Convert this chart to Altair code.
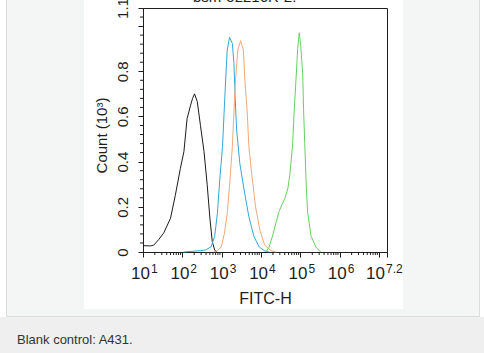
import math
import altair as alt
import pandas as pd

# ---------------- data ----------------
# FITC-H in log10 units, Count in thousands
black_log = [1.00, 1.19, 1.27, 1.40, 1.53, 1.70, 1.82, 1.95, 2.04, 2.12, 2.21, 2.26, 2.31,
             2.38, 2.46, 2.55, 2.63, 2.70, 2.76, 2.82, 2.87]
black_cnt = [0.028, 0.027, 0.030, 0.055, 0.085, 0.150, 0.250, 0.370, 0.445, 0.590, 0.650, 0.680,
             0.700, 0.665, 0.560, 0.445, 0.300, 0.150, 0.046, 0.009, 0.0]

blue_log = [2.03, 2.46, 2.59, 2.73, 2.82, 2.89, 2.95, 3.02, 3.06, 3.10, 3.14, 3.20, 3.27, 3.31,
            3.34, 3.38, 3.46, 3.57, 3.69, 3.82, 3.95, 4.08, 4.20]
blue_cnt = [0.0, 0.006, 0.009, 0.023, 0.068, 0.171, 0.319, 0.466, 0.614, 0.761, 0.894, 0.950,
            0.923, 0.835, 0.687, 0.540, 0.392, 0.274, 0.156, 0.068, 0.023, 0.006, 0.0]

orange_log = [2.79, 2.89, 2.99, 3.07, 3.14, 3.21, 3.27, 3.31, 3.35, 3.41, 3.48, 3.55, 3.59, 3.65,
              3.69, 3.78, 3.86, 3.97, 4.09, 4.25, 4.37]
orange_cnt = [0.0, 0.006, 0.023, 0.083, 0.171, 0.319, 0.466, 0.614, 0.761, 0.894, 0.935, 0.894,
              0.761, 0.614, 0.466, 0.319, 0.200, 0.097, 0.031, 0.006, 0.0]

green_log = [4.12, 4.20, 4.29, 4.38, 4.46, 4.53, 4.60, 4.68, 4.73, 4.80, 4.84, 4.89, 4.93, 4.97,
             5.01, 5.06, 5.08, 5.11, 5.14, 5.18, 5.27, 5.40, 5.52]
green_cnt = [0.0, 0.020, 0.070, 0.130, 0.180, 0.210, 0.235, 0.280, 0.340, 0.470, 0.620, 0.770,
             0.900, 0.970, 0.910, 0.780, 0.630, 0.480, 0.330, 0.180, 0.070, 0.020, 0.0]

series_names = ["Blank control", "Isotype control", "Sample", "Positive"]
series_colors = ["#1c1c1c", "#33a8d6", "#f2a878", "#66d160"]

decade_pos = [1, 2, 3, 4, 5, 6]
decade_sup = ["1", "2", "3", "4", "5", "6"]
end_pos = [7.2]
end_sup = ["7.2"]

y_major = [0, 0.2, 0.4, 0.6, 0.8, 1.0, 1.08]

x_title = "FITC-H"
y_title = "Count (10³)"
caption = "Blank control: A431."
top_text = "bsm-52216R-2:"

# ---------------- tables ----------------
rows = []
for name, xs, ys in zip(series_names,
                        [black_log, blue_log, orange_log, green_log],
                        [black_cnt, blue_cnt, orange_cnt, green_cnt]):
    for i, (xv, yv) in enumerate(zip(xs, ys)):
        rows.append({"series": name, "fitc_log": xv, "count": yv, "i": i})
curves = pd.DataFrame(rows)

x_minor = [math.log10(k) + n for n in range(1, 7) for k in range(2, 10)]
minor_x_df = pd.DataFrame({"m": x_minor})
y_minor = [round(0.04 * k, 2) for k in range(1, 27) if k % 5 != 0]
minor_y_df = pd.DataFrame({"m": y_minor})
dec_df = pd.DataFrame({"pos": decade_pos, "sup": decade_sup})
end_df = pd.DataFrame({"pos": end_pos, "sup": end_sup})
one = pd.DataFrame({"k": [0]})

W, H = 244, 244
FONT = "Liberation Sans"
INK = "#1e1e1e"
PANEL = "#f4f6f5"
CAP_BG = "#eeefee"
BORDER = "#dcdcdc"

xscale = alt.Scale(domain=[1, 7.2], nice=False, zero=False)
yscale = alt.Scale(domain=[0, 1.08], nice=False, zero=False)


def box(x, x2, y, y2, color):
    return alt.Chart(one).mark_rect(color=color).encode(
        x=alt.value(x), x2=alt.value(x2), y=alt.value(y), y2=alt.value(y2))


def line(x, x2, y, y2, color):
    return alt.Chart(one).mark_rule(color=color, strokeWidth=1).encode(
        x=alt.value(x), x2=alt.value(x2), y=alt.value(y), y2=alt.value(y2))


# page decorations (plot origin is at page (143, 8))
deco = [
    box(-137, -59, -8, 308, PANEL),
    box(260, 337, -8, 308, PANEL),
    box(-59, 260, 301, 308, PANEL),
    box(-143, 341, 309, 345, CAP_BG),
    line(-136.5, -136.5, -8, 308.5, BORDER),
    line(336.5, 336.5, -8, 308.5, BORDER),
    line(-136.5, 336.5, 308.5, 308.5, BORDER),
]

caption_txt = alt.Chart(one).mark_text(
    text=caption, align="left", baseline="alphabetic", fontSize=13, font=FONT, color="#333333"
).encode(x=alt.value(-126), y=alt.value(336))

top_txt = alt.Chart(one).mark_text(
    text=top_text, align="left", baseline="alphabetic", fontSize=15, font=FONT, color=INK
).encode(x=alt.value(50), y=alt.value(-6.5))

lines = alt.Chart(curves).mark_line(strokeWidth=1).encode(
    x=alt.X("fitc_log:Q", scale=xscale,
            axis=alt.Axis(values=[1, 2, 3, 4, 5, 6, 7, 7.2], labels=False, tickSize=5,
                          grid=False, title=x_title, titleY=51, titleBaseline="alphabetic",
                          titleFontSize=16, titleFontWeight="normal", titleFont=FONT,
                          titleColor=INK)),
    y=alt.Y("count:Q", scale=yscale,
            axis=alt.Axis(values=y_major, tickSize=5, grid=False,
                          labelExpr="datum.value > 1.05 ? '1.1' : (datum.value > 0.99 ? '' : (datum.value == 0 ? '0' : format(datum.value, '.1f')))",
                          labelAngle=270, labelAlign="center", labelBaseline="alphabetic",
                          labelPadding=11, labelFontSize=15, labelFont=FONT, labelColor=INK,
                          title=y_title, titleAngle=270, titleAlign="center",
                          titleBaseline="alphabetic", titleX=-37, titleY=127,
                          titleFontSize=15, titleFontWeight="normal", titleFont=FONT,
                          titleColor=INK)),
    color=alt.Color("series:N", scale=alt.Scale(domain=series_names, range=series_colors),
                    legend=None),
    order="i:Q",
)

minor_x = alt.Chart(minor_x_df).mark_rule(color=INK, strokeWidth=1).encode(
    x=alt.X("m:Q", scale=xscale, axis=None), y=alt.value(H), y2=alt.value(H + 3))
minor_y = alt.Chart(minor_y_df).mark_rule(color=INK, strokeWidth=1).encode(
    y=alt.Y("m:Q", scale=yscale, axis=None), x=alt.value(0), x2=alt.value(-3))

base_dec = alt.Chart(dec_df).mark_text(
    text="10", align="right", baseline="alphabetic", dx=7, fontSize=17, font=FONT, color=INK
).encode(x=alt.X("pos:Q", scale=xscale, axis=None), y=alt.value(H + 27))
sup_dec = alt.Chart(dec_df).mark_text(
    align="left", baseline="alphabetic", dx=8, fontSize=12, font=FONT, color=INK
).encode(x=alt.X("pos:Q", scale=xscale, axis=None), y=alt.value(H + 21), text="sup:N")
base_end = alt.Chart(end_df).mark_text(
    text="10", align="right", baseline="alphabetic", dx=-2, fontSize=17, font=FONT, color=INK
).encode(x=alt.X("pos:Q", scale=xscale, axis=None), y=alt.value(H + 27))
sup_end = alt.Chart(end_df).mark_text(
    align="left", baseline="alphabetic", dx=-1, fontSize=12, font=FONT, color=INK
).encode(x=alt.X("pos:Q", scale=xscale, axis=None), y=alt.value(H + 21), text="sup:N")

chart = alt.layer(
    *deco, caption_txt, top_txt, lines, minor_x, minor_y, base_dec, sup_dec, base_end, sup_end
).resolve_axis(
    x="independent", y="independent"
).properties(
    width=W, height=H,
    autosize=alt.AutoSizeParams(type="none"),
    padding={"left": 143, "top": 8, "right": 97, "bottom": 101},
).configure(
    background="white", font=FONT
).configure_view(
    stroke=INK, strokeWidth=1
).configure_axis(
    domainColor=INK, tickColor=INK, zindex=1
)

chart.save("out.html", embed_options={"renderer": "svg", "actions": False})
